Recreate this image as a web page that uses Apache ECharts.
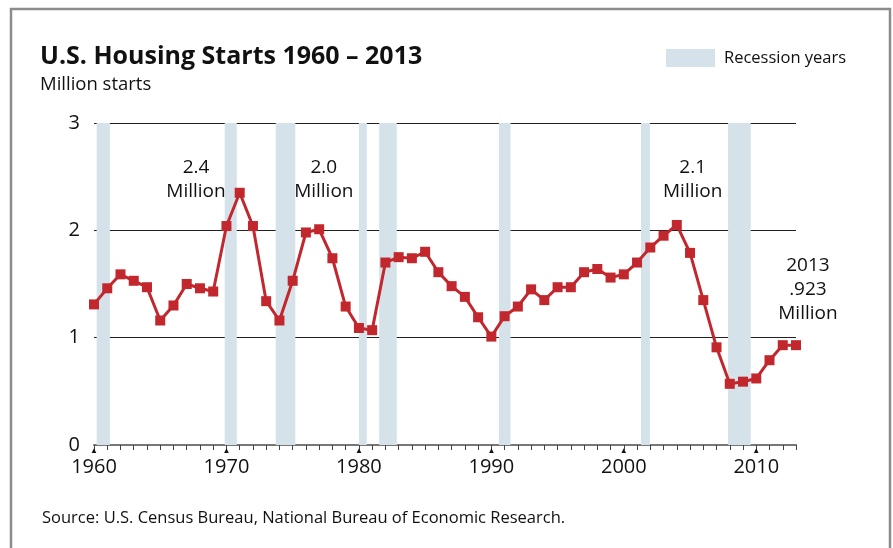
<!DOCTYPE html>
<html>
<head>
<meta charset="utf-8">
<script src="https://cdn.jsdelivr.net/npm/echarts@6/dist/echarts.min.js"></script>
<style>
  html, body { margin: 0; padding: 0; background: #fff; }
  #container { width: 893px; height: 548px; }
</style>
</head>
<body>
<div id="container"></div>
<script>
// Datos (millones de viviendas iniciadas)
var years = [];
for (var y = 1960; y <= 2013; y++) years.push(y);
var starts = [
    1.31, 1.46, 1.59, 1.53, 1.47, 1.16, 1.30, 1.50, 1.46, 1.43,
    2.04, 2.35, 2.04, 1.34, 1.16, 1.53, 1.98, 2.01, 1.74, 1.29,
    1.09, 1.07, 1.70, 1.75, 1.74, 1.80, 1.61, 1.48, 1.38, 1.19,
    1.01, 1.20, 1.29, 1.45, 1.35, 1.47, 1.47, 1.61, 1.64, 1.56,
    1.59, 1.70, 1.84, 1.95, 2.05, 1.79, 1.35, 0.91, 0.57, 0.59,
    0.62, 0.79, 0.93, 0.93
];

// Años de recesión (inicio, fin)
var recessionStart = [1960.2, 1969.87, 1973.72, 1980.0, 1981.53, 1990.57, 2001.3, 2007.87];
var recessionEnd   = [1961.2, 1970.78, 1975.2, 1980.6, 1982.86, 1991.45, 2001.97, 2009.58];

// Anotaciones
var annoText = ['2.4\nMillion', '2.0\nMillion', '2.1\nMillion', '2013\n.923\nMillion'];
var annoX = [1967.7, 1977.35, 2005.2, 2013.9];
var annoY = [2.47, 2.47, 2.47, 1.45];

var yTicks = [0, 1, 2, 3];

var FONT = '"Open Sans", "Noto Sans", sans-serif';

document.addEventListener('DOMContentLoaded', function () {
    var dom = document.getElementById('container');
    var myChart = echarts.init(dom);

    var lineData = years.map(function (yr, i) { return [yr, starts[i]]; });
    var areas = recessionStart.map(function (s, i) {
        return [{ xAxis: s }, { xAxis: recessionEnd[i] }];
    });
    var annoData = annoText.map(function (t, i) { return [annoX[i], annoY[i], t]; });

    var option = {
        animation: false,
        textStyle: { fontFamily: FONT },
        title: [
            {
                text: 'U.S. Housing Starts 1960 – 2013',
                left: 40, top: 44, padding: 0,
                textStyle: { fontFamily: FONT, fontSize: 25, fontWeight: 'bold', color: '#111' }
            },
            {
                text: 'Million starts',
                left: 40, top: 75, padding: 0,
                textStyle: { fontFamily: FONT, fontSize: 18.5, fontWeight: 'normal', color: '#111' }
            },
            {
                text: 'Source: U.S. Census Bureau, National Bureau of Economic Research.',
                left: 42, top: 510, padding: 0,
                textStyle: { fontFamily: FONT, fontSize: 16.5, fontWeight: 'normal', color: '#111' }
            }
        ],
        legend: {
            left: 666, top: 49, padding: 0,
            itemWidth: 49, itemHeight: 18,
            icon: 'rect',
            data: ['Recession years'],
            textStyle: { fontFamily: FONT, fontSize: 16.5, color: '#111', padding: [0, 0, 0, 4] }
        },
        graphic: [
            {
                type: 'rect',
                shape: { x: 11, y: 9, width: 879, height: 600 },
                style: { fill: 'none', stroke: '#8c8c8c', lineWidth: 2.5 },
                silent: true
            }
        ],
        grid: { left: 94, right: 97, top: 123, bottom: 103 },
        xAxis: {
            type: 'value',
            min: 1960, max: 2013, interval: 1,
            axisLine: { lineStyle: { color: '#777', width: 2 } },
            axisTick: { length: 5, lineStyle: { color: '#444', width: 1 } },
            splitLine: { show: false },
            axisLabel: {
                margin: 1,
                formatter: function (v) {
                    return v % 10 === 0 ? '{t|▲}\n{l|' + v + '}' : '';
                },
                rich: {
                    t: { fontSize: 8, lineHeight: 9, color: '#111' },
                    l: { fontSize: 20, lineHeight: 24, color: '#111', fontFamily: FONT }
                }
            }
        },
        yAxis: {
            type: 'value',
            min: yTicks[0], max: yTicks[yTicks.length - 1], interval: 1,
            axisLine: { show: false },
            axisTick: { show: false },
            splitLine: { lineStyle: { color: '#222', width: 1 } },
            axisLabel: { margin: 14, fontSize: 20, color: '#111', fontFamily: FONT }
        },
        series: [
            {
                name: 'Recession years',
                type: 'line',
                data: [],
                itemStyle: { color: '#d5e2ea' },
                lineStyle: { color: '#d5e2ea' },
                markArea: {
                    silent: true,
                    itemStyle: { color: '#d5e2ea', opacity: 1 },
                    data: areas
                }
            },
            {
                name: 'Housing starts',
                type: 'line',
                data: lineData,
                symbol: 'rect',
                symbolSize: 10,
                itemStyle: { color: '#c1272d' },
                lineStyle: { color: '#c1272d', width: 3 },
                z: 5
            },
            {
                name: 'anno',
                type: 'scatter',
                data: annoData,
                symbolSize: 0,
                clip: false,
                silent: true,
                itemStyle: { opacity: 1 },
                label: {
                    show: true,
                    position: 'inside',
                    formatter: function (p) { return p.data[2]; },
                    fontFamily: FONT,
                    fontSize: 19,
                    lineHeight: 24,
                    color: '#111',
                    opacity: 1,
                    align: 'center'
                }
            }
        ]
    };

    myChart.setOption(option);
    window.addEventListener('resize', myChart.resize);
});
</script>
</body>
</html>
